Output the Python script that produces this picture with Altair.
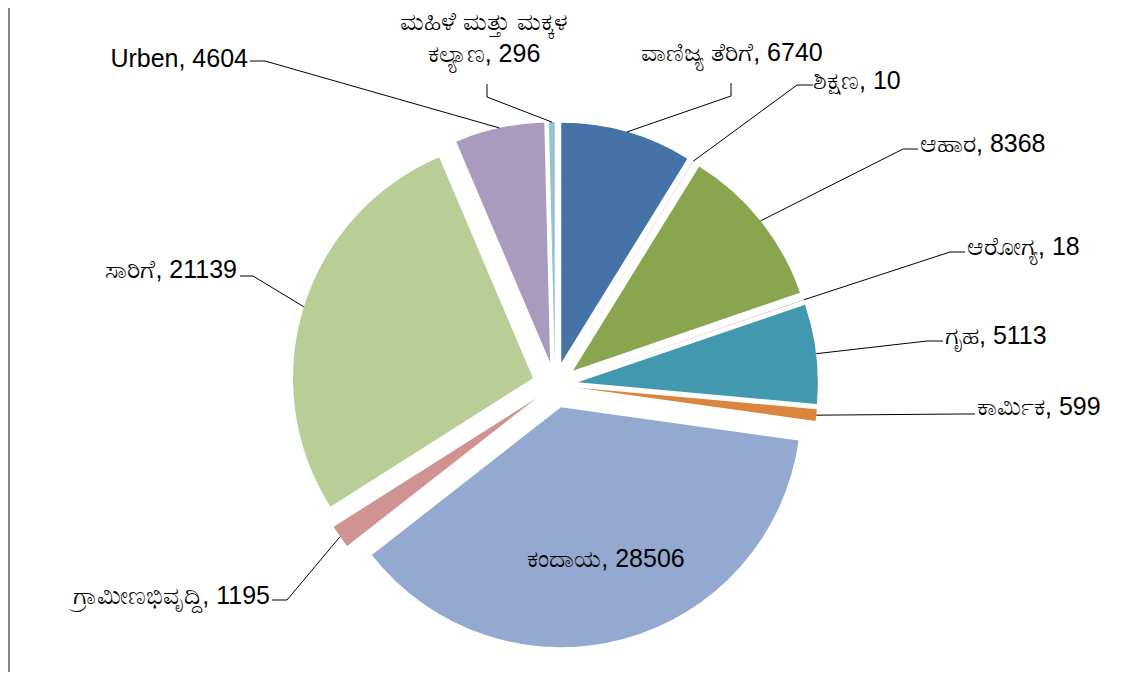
import math
import numpy as np
import pandas as pd
import altair as alt

# ---- data (clockwise from 12 o'clock) ----
categories = ["ವಾಣಿಜ್ಯ ತೆರಿಗೆ", "ಶಿಕ್ಷಣ", "ಆಹಾರ", "ಆರೋಗ್ಯ", "ಗೃಹ", "ಕಾರ್ಮಿಕ",
              "ಕಂದಾಯ", "ಗ್ರಾಮೀಣಭಿವೃದ್ದಿ", "ಸಾರಿಗೆ", "Urben", "ಮಹಿಳೆ ಮತ್ತು ಮಕ್ಕಳ ಕಲ್ಯಾಣ"]
values = [6740, 10, 8368, 18, 5113, 599, 28506, 1195, 21139, 4604, 296]
colors = ["#4572A7", "#AA4643", "#89A54E", "#71588F", "#4198AF", "#DB843D",
          "#93A9CF", "#D19392", "#B9CD96", "#A99BBD", "#92C3D3"]

# ---- label layout (page pixels) ----
label_text = ["ವಾಣಿಜ್ಯ ತೆರಿಗೆ, 6740", "ಶಿಕ್ಷಣ, 10", "ಆಹಾರ, 8368", "ಆರೋಗ್ಯ, 18",
              "ಗೃಹ, 5113", "ಕಾರ್ಮಿಕ, 599", "ಕಂದಾಯ, 28506", "ಗ್ರಾಮೀಣಭಿವೃದ್ದಿ, 1195",
              "ಸಾರಿಗೆ, 21139", "Urben, 4604", "ಮಹಿಳೆ ಮತ್ತು ಮಕ್ಕಳ\nಕಲ್ಯಾಣ, 296"]
label_x = [732, 813, 920, 967, 945, 977, 606, 270, 237, 248, 484]
label_y = [53, 81, 144, 247, 336, 407, 559, 596, 270, 59, 22]
label_align = ["center", "left", "left", "left", "left", "left", "center",
               "right", "right", "right", "center"]
# leader: label attach point and elbow (page pixels); None = no leader
leader_attach = [(731, 83), (813, 85), (918, 149), (965, 252), (943, 341), (975, 414),
                 None, (272, 600), (240, 276), (250, 61), (487, 84)]
leader_elbow = [(731, 96), (797, 85), (903, 149), (950, 252), (927, 341), (960, 414),
                None, (287, 600), (253, 276), (265, 61), (487, 97)]

M = 8                      # page margin
W, H = 1108, 664
CX, CY = 555 - M, 385 - M  # pie centre in chart pixels
R = 240
EXPLODE = 23
FONT = "Liberation Sans"
FS = 25

vals = np.array(values, dtype=float)
cum = np.cumsum(vals)
tot = vals.sum()
a1 = 2 * math.pi * cum / tot
a0 = 2 * math.pi * (cum - vals) / tot
mid = (a0 + a1) / 2
cx = CX + EXPLODE * np.sin(mid)
cy = CY - EXPLODE * np.cos(mid)

pie_df = pd.DataFrame({"category": categories, "value": values,
                       "a0": a0, "a1": a1, "cx": cx, "cy": cy})

rows = []
for i, c in enumerate(categories):
    if leader_attach[i] is None:
        continue
    ex = cx[i] + R * math.sin(mid[i])
    ey = cy[i] - R * math.cos(mid[i])
    pts = [(leader_attach[i][0] - M, leader_attach[i][1] - M),
           (leader_elbow[i][0] - M, leader_elbow[i][1] - M), (ex, ey)]
    for k, (px, py) in enumerate(pts):
        rows.append({"category": c, "seq": k, "x": px, "y": py})
line_df = pd.DataFrame(rows)

text_df = pd.DataFrame({"text": label_text,
                        "x": [v - M for v in label_x],
                        "y": [v - M for v in label_y],
                        "align": label_align})

pie = alt.Chart(pie_df).mark_arc(radius=R).encode(
    theta=alt.Theta("a0:Q", scale=None),
    theta2="a1:Q",
    x=alt.X("cx:Q", scale=None),
    y=alt.Y("cy:Q", scale=None),
    color=alt.Color("category:N", scale=alt.Scale(domain=categories, range=colors), legend=None),
    tooltip=["category:N", "value:Q"],
)

leaders = alt.Chart(line_df).mark_line(color="black", strokeWidth=1).encode(
    x=alt.X("x:Q", scale=None),
    y=alt.Y("y:Q", scale=None),
    detail="category:N",
    order="seq:O",
)

texts = []
for al in ["left", "center", "right"]:
    texts.append(
        alt.Chart(text_df).transform_filter(alt.datum.align == al)
        .mark_text(align=al, baseline="middle", font=FONT, fontSize=FS,
                   color="black", lineBreak="\n", lineHeight=32)
        .encode(x=alt.X("x:Q", scale=None), y=alt.Y("y:Q", scale=None), text="text:N")
    )

border = alt.Chart(pie_df).mark_rule(color="#888888", strokeWidth=1.5).encode(
    x=alt.value(0.75), y=alt.value(0), y2=alt.value(H))

chart = alt.layer(pie, leaders, *texts, border).properties(
    width=W, height=H, padding=0, autosize=alt.AutoSizeParams(type="none")
).configure_view(stroke=None)

chart.save("out.html", embed_options={"renderer": "svg", "actions": False})
